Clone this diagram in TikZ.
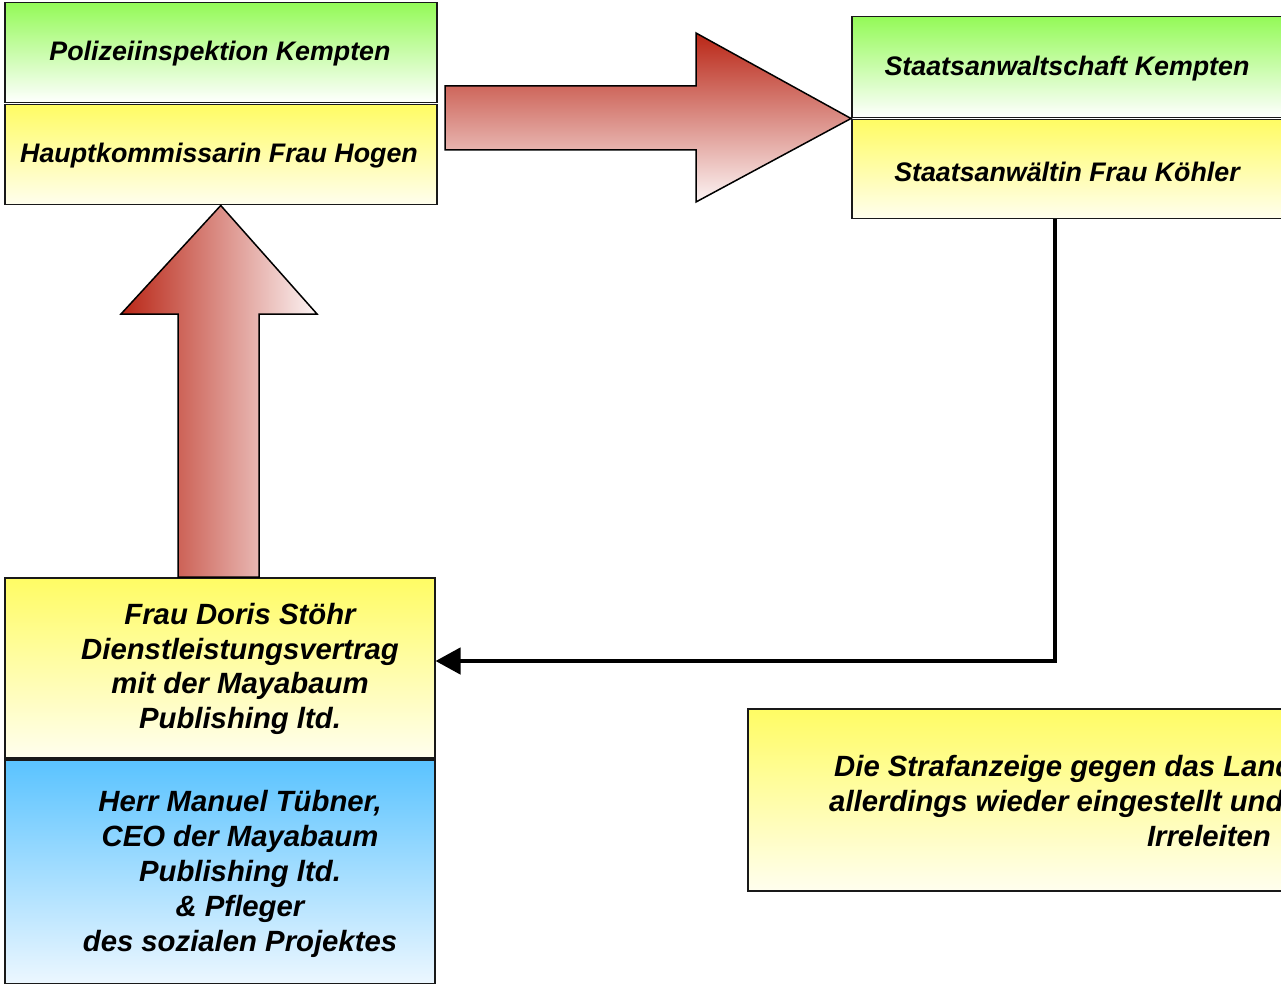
\documentclass[tikz,border=0pt]{standalone}
\usepackage{fontspec}
\setmainfont{Liberation Sans}
\usetikzlibrary{arrows.meta}
\definecolor{gtop}{RGB}{148,250,88}
\definecolor{ytop}{RGB}{255,252,100}
\definecolor{ybot}{RGB}{255,254,238}
\definecolor{btop}{RGB}{90,195,255}
\definecolor{bbot}{RGB}{236,247,255}
\definecolor{rdark}{RGB}{185,38,22}
\definecolor{rlight}{RGB}{252,244,244}
\tikzset{
  lbl/.style={font=\fontsize{26.8}{34.5}\selectfont\bfseries\itshape, align=center, inner sep=0pt},
  lblb/.style={font=\fontsize{29.3}{34.8}\selectfont\bfseries\itshape, align=center, inner sep=0pt},
  box/.style={draw=black!90, line width=1.5pt, inner sep=0pt, anchor=north west},
  gbox/.style={box, top color=gtop, bottom color=white},
  ybox/.style={box, top color=ytop, bottom color=ybot},
  bbox/.style={box, top color=btop, bottom color=bbot},
  bigarrow/.style={draw=black, line width=1.5pt, line join=miter},
  link/.style={draw=black, line width=4.5pt, -{Triangle[length=25pt,width=26pt]}}
}
\begin{document}
\begin{tikzpicture}[x=1pt,y=-1pt]
\useasboundingbox (0,0) rectangle (1281,984);
\clip (0,0) rectangle (1281,984);
% top-left
\node[gbox, minimum width=432pt, minimum height=100pt] (pol) at (4,2) {};
\node[lbl] (polt) at (220,54) {Polizeiinspektion Kempten};
\node[ybox, minimum width=432pt, minimum height=100pt] (hog) at (4,104) {};
\node[lbl] (hogt) at (219,156) {Hauptkommissarin Frau Hogen};
% top-right
\node[gbox, minimum width=434pt, minimum height=101pt] (sta) at (851,16) {};
\node[lbl] (stat) at (1067,69) {Staatsanwaltschaft Kempten};
\node[ybox, minimum width=434pt, minimum height=99pt] (koe) at (851,119) {};
\node[lbl] (koet) at (1067,172) {Staatsanw\"altin Frau K\"ohler};
% bottom-left
\node[ybox, minimum width=430pt, minimum height=180pt] (stoe) at (4,577) {};
\node[lblb] (stoet) at (240,669) {Frau Doris St\"ohr\\Dienstleistungsvertrag\\mit der Mayabaum\\Publishing ltd.};
\node[bbox, minimum width=430pt, minimum height=224pt] (tueb) at (4,759) {};
\node[lblb] (tuebt) at (240,874) {Herr Manuel T\"ubner,\\CEO der Mayabaum\\Publishing ltd.\\\& Pfleger\\des sozialen Projektes};
% bottom-right
\node[ybox, minimum width=540pt, minimum height=182pt] (anz) at (747,708) {};
\node[lblb, anchor=base west] (anz1) at (834,776.5) {Die Strafanzeige gegen das Land};
\node[lblb, anchor=base west] (anz2) at (829,811.5) {allerdings wieder eingestellt und};
\node[lblb, anchor=base east] (anz3) at (1271,846.5) {Irreleiten};
% big arrows
\draw[bigarrow, top color=rdark, bottom color=rlight]
  (445,86) -- (696,86) -- (696,33) -- (sta.south west) -- (696,202) -- (696,150) -- (445,150) -- cycle;
\draw[bigarrow, left color=rdark, right color=rlight]
  (178,577) -- (178,314) -- (121,314) -- (hog.south) -- (317,314) -- (259,314) -- (259,577) -- cycle;
% connector
\coordinate (turn) at (1055,661);
\draw[link] (koe.south -| turn) -- (turn) -- (stoe.east |- turn);
\end{tikzpicture}
\end{document}
